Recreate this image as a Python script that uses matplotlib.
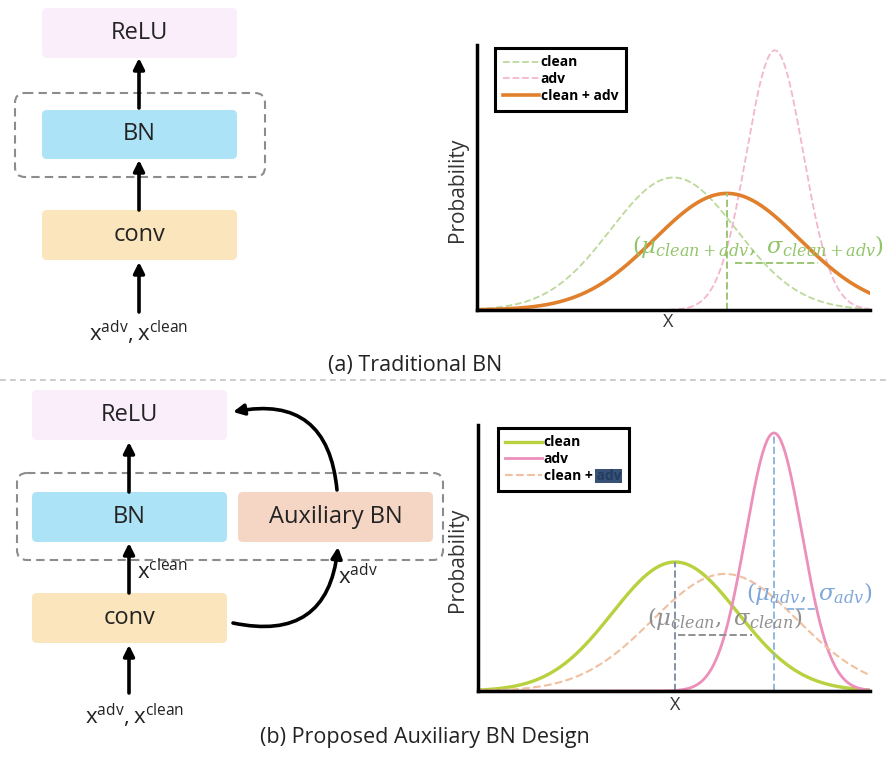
import numpy as np
import matplotlib
import matplotlib.pyplot as plt
from matplotlib.patches import FancyBboxPatch, Rectangle
from matplotlib.transforms import IdentityTransform

plt.rcParams['font.family'] = ['Open Sans', 'DejaVu Sans']
plt.rcParams['mathtext.fontset'] = 'custom'
plt.rcParams['mathtext.rm'] = 'Open Sans'
plt.rcParams['mathtext.it'] = 'Open Sans'

# curve parameters (x axis 0..10, y axis 0..1)
curve_names = ['clean', 'adv', 'clean + adv']
top_mean = [5.0, 7.58, 6.36]
top_sigma = [1.6, 0.72, 1.85]
top_peak = [0.50, 0.98, 0.44]
bot_mean = [5.03, 7.55, 6.3]
bot_sigma = [1.6, 0.72, 1.85]
bot_peak = [0.485, 0.97, 0.44]

top_colors = ['#bcd99a', '#f3b6cf', '#e0802c']
top_styles = ['--', '--', '-']
top_widths = [1.3, 1.3, 2.6]
bot_colors = ['#b8d13e', '#ec8fbb', '#f1c0a0']
bot_styles = ['-', '-', '--']
bot_widths = [2.4, 2.0, 1.5]

TXT = '#232323'
W, H = 887, 758
fig = plt.figure(figsize=(W / 100, H / 100), dpi=100)
base = fig.add_axes([0, 0, 1, 1])
base.set_xlim(0, W)
base.set_ylim(H, 0)
base.axis('off')


def box(x0, y0, x1, y1, color, label, fs=17):
    r = 5
    p = FancyBboxPatch((x0 + r, y0 + r), x1 - x0 - 2 * r, y1 - y0 - 2 * r,
                       boxstyle='round,pad=%d' % r, fc=color, ec='none')
    base.add_patch(p)
    base.text((x0 + x1) / 2, (y0 + y1) / 2, label, ha='center', va='center',
              fontsize=fs, color=TXT)


def dashbox(x0, y0, x1, y1):
    r = 10
    p = FancyBboxPatch((x0 + r, y0 + r), x1 - x0 - 2 * r, y1 - y0 - 2 * r,
                       boxstyle='round,pad=%d' % r, fc='none', ec='#8c8c8c',
                       lw=1.5, ls=(0, (4, 2.5)))
    base.add_patch(p)


def arrow(x0, y0, x1, y1, rad=0.0):
    base.annotate('', xy=(x1, y1), xytext=(x0, y0),
                  arrowprops=dict(arrowstyle='-|>', color='black', lw=2.6,
                                  mutation_scale=16, shrinkA=0, shrinkB=0,
                                  connectionstyle='arc3,rad=%s' % rad))


# ---- (a) traditional BN diagram
box(42, 8, 237, 58, '#f9eef9', 'ReLU')
dashbox(15, 93, 265, 177)
box(42, 110, 237, 159, '#ade3f6', 'BN')
box(42, 210, 237, 260, '#fbe5bd', 'conv')
arrow(139, 108, 139, 58)
arrow(139, 210, 139, 160)
arrow(139, 312, 139, 262)
base.text(139, 333, r'$\mathregular{x^{adv}, x^{clean}}$', ha='center', va='center',
          fontsize=16, color=TXT)
base.text(415, 366, '(a) Traditional BN', ha='center', va='center', fontsize=15.5, color=TXT)
base.plot([0, W], [380, 380], color='#c4c4c4', lw=1.2, ls=(0, (3.5, 2.5)))

# ---- (b) proposed auxiliary BN diagram
box(32, 390, 227, 440, '#f9eef9', 'ReLU')
dashbox(17, 473, 443, 560)
box(32, 492, 227, 542, '#ade3f6', 'BN')
box(238, 492, 433, 542, '#f5d6c4', 'Auxiliary BN')
box(32, 593, 227, 643, '#fbe5bd', 'conv')
arrow(129, 492, 129, 442)
arrow(129, 593, 129, 543)
arrow(129, 693, 129, 645)
arrow(233, 623, 338, 547, rad=0.55)
arrow(337, 490, 233, 412, rad=0.55)
base.text(137, 572, r'$\mathregular{x^{clean}}$', ha='left', va='center', fontsize=16, color=TXT)
base.text(338, 577, r'$\mathregular{x^{adv}}$', ha='left', va='center', fontsize=16, color=TXT)
base.text(135, 716, r'$\mathregular{x^{adv}, x^{clean}}$', ha='center', va='center',
          fontsize=16, color=TXT)
base.text(425, 737, '(b) Proposed Auxiliary BN Design', ha='center', va='center',
          fontsize=15.5, color=TXT)


def chart(l, t, r, b):
    ax = fig.add_axes([l / W, 1 - b / H, (r - l) / W, (b - t) / H])
    ax.patch.set_alpha(0)
    ax.set_xlim(0, 10)
    ax.set_ylim(0, 1)
    for s in ['top', 'right']:
        ax.spines[s].set_visible(False)
    for s in ['left', 'bottom']:
        ax.spines[s].set_linewidth(2.5)
    ax.set_xticks([])
    ax.set_yticks([])
    return ax


def legend(ax, ax_x):
    leg = ax.legend(loc='upper left', bbox_to_anchor=(ax_x, 1.005), fancybox=False,
                    edgecolor='black', framealpha=1, prop={'weight': 'bold', 'size': 10},
                    handlelength=2.6, borderpad=0.55, labelspacing=0.2, handletextpad=0.15,
                    borderaxespad=0.3)
    leg.get_frame().set_linewidth(2.2)
    return leg


x = np.linspace(0, 10, 400)

# ---- top chart
ax1 = chart(477, 45, 870, 310)
for i in range(3):
    y = top_peak[i] * np.exp(-(x - top_mean[i]) ** 2 / (2 * top_sigma[i] ** 2))
    ax1.plot(x, y, color=top_colors[i], ls=top_styles[i], lw=top_widths[i], label=curve_names[i])
ax1.plot([top_mean[2], top_mean[2]], [0, top_peak[2]], color='#9cc775', lw=1.4, ls='--')
ax1.plot([6.56, 8.68], [0.177, 0.177], color='#9cc775', lw=1.4, ls='--')
ax1.text(7.15, 0.238, r'$(\mu_{clean+adv},\ \sigma_{clean+adv})$', math_fontfamily='dejavuserif',
         ha='center', va='center', fontsize=16.5, color='#92c56a', clip_on=False)
legend(ax1, 0.035)
base.text(458, 190, 'Probability', rotation=90, ha='center', va='center', fontsize=15, color='#333333')
base.text(668, 322, 'X', ha='center', va='center', fontsize=13, color='#333333')

# ---- bottom chart
ax2 = chart(478, 425, 870, 691)
for i in range(3):
    y = bot_peak[i] * np.exp(-(x - bot_mean[i]) ** 2 / (2 * bot_sigma[i] ** 2))
    ax2.plot(x, y, color=bot_colors[i], ls=bot_styles[i], lw=bot_widths[i], label=curve_names[i])
ax2.plot([bot_mean[0], bot_mean[0]], [0, bot_peak[0]], color='#8390a8', lw=1.4, ls='--')
ax2.plot([5.1, 7.0], [0.21, 0.21], color='#909090', lw=1.4, ls='--')
ax2.plot([bot_mean[1], bot_mean[1]], [0, bot_peak[1]], color='#94b8e0', lw=1.4, ls='--')
ax2.plot([7.88, 8.65], [0.31, 0.31], color='#94b8e0', lw=1.4, ls='--')
ax2.text(6.3, 0.274, r'$(\mu_{clean},\ \sigma_{clean})$', math_fontfamily='dejavuserif',
         ha='center', va='center', fontsize=16.5, color='#8f8f8f', clip_on=False)
ax2.text(8.45, 0.368, r'$(\mu_{adv},\ \sigma_{adv})$', math_fontfamily='dejavuserif',
         ha='center', va='center', fontsize=16.5, color='#7fa7d8', clip_on=False)
leg2 = legend(ax2, 0.04)
base.text(458, 560, 'Probability', rotation=90, ha='center', va='center', fontsize=15, color='#333333')
base.text(675, 705, 'X', ha='center', va='center', fontsize=13, color='#333333')

# selection highlight over "adv" in the lower legend
fig.canvas.draw()
rend = fig.canvas.get_renderer()
t3 = leg2.get_texts()[2]
bb = t3.get_window_extent(rend)
tmp = base.text(0, 0, 'clean + ', fontproperties=t3.get_fontproperties())
wpre = tmp.get_window_extent(rend).width
tmp.remove()
fig.add_artist(Rectangle((bb.x0 + wpre - 1, bb.y0), bb.width - wpre + 2, bb.height,
                         transform=IdentityTransform(), fc='#27426b', ec='none', alpha=0.92, zorder=10))

fig.savefig('out.png', dpi=100)
